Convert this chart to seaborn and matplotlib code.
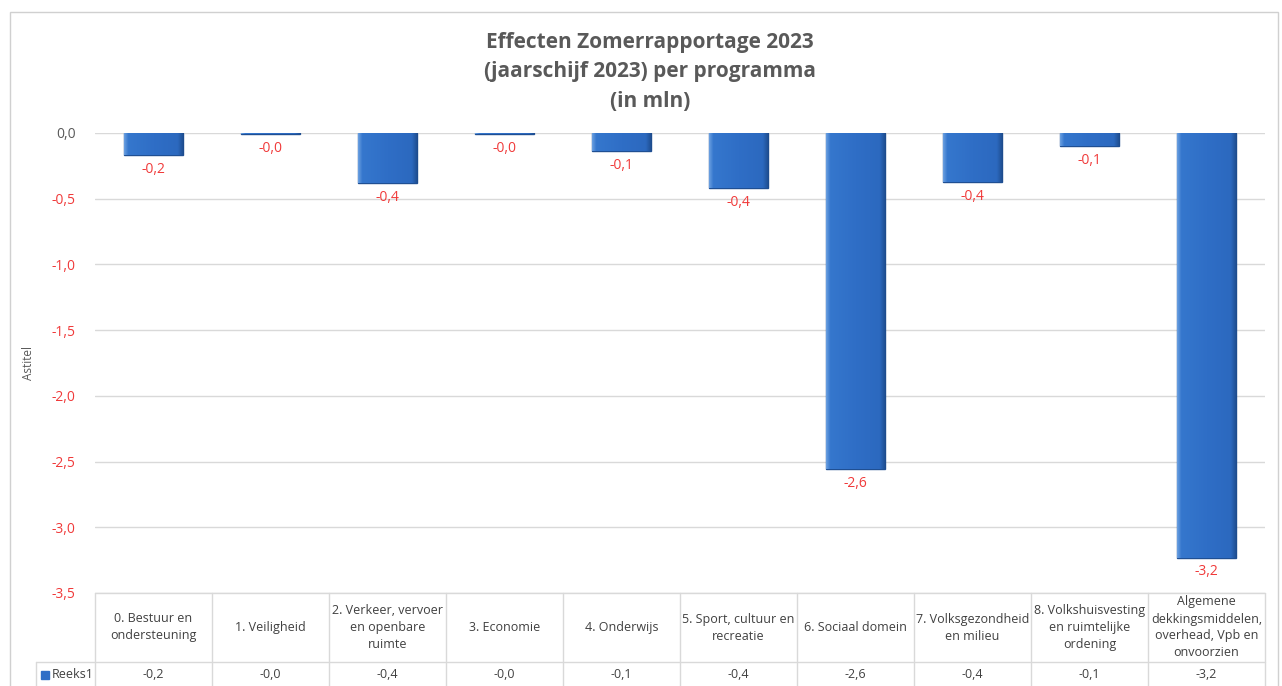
import matplotlib
matplotlib.use("Agg")
import matplotlib.pyplot as plt
import matplotlib.transforms as mtransforms
from matplotlib.colors import LinearSegmentedColormap
from matplotlib.patches import Rectangle
import numpy as np
import seaborn as sns
import pandas as pd

# ── DATA ──────────────────────────────────────────────────────────────────────

programmas = [
    "0. Bestuur en\nondersteuning",
    "1. Veiligheid",
    "2. Verkeer, vervoer\nen openbare\nruimte",
    "3. Economie",
    "4. Onderwijs",
    "5. Sport, cultuur en\nrecreatie",
    "6. Sociaal domein",
    "7. Volksgezondheid\nen milieu",
    "8. Volkshuisvesting\nen ruimtelijke\nordening",
    "Algemene\ndekkingsmiddelen,\noverhead, Vpb en\nonvoorzien",
]
effect = [-0.17, -0.01, -0.38, -0.01, -0.14, -0.42, -2.56, -0.37, -0.10, -3.23]
y_ticks = [0.0, -0.5, -1.0, -1.5, -2.0, -2.5, -3.0, -3.5]
serie_naam = "Reeks1"

df = pd.DataFrame({"programma": programmas, "effect": effect})

def nl(v):
    return f"{v:.1f}".replace(".", ",")

# ── STYLE ─────────────────────────────────────────────────────────────────────

sns.set_theme(style="white")
plt.rcParams["font.family"] = ["Open Sans", "DejaVu Sans"]
GREY = "#595959"
RED = "#F03A3A"
GRID = "#D9D9D9"
BAR = "#2F6EC6"

fig = plt.figure(figsize=(12.82, 6.86), dpi=100)
ax = fig.add_axes([95 / 1282, 1 - 593 / 686, 1170 / 1282, 460 / 686])

sns.barplot(data=df, x="programma", y="effect", ax=ax, color=BAR,
            width=0.51, edgecolor="#1F4F93", linewidth=1.0, saturation=1)

# bevelled look: light left edge, flat face, dark right edge
bevel = LinearSegmentedColormap.from_list(
    "bevel", [(0.0, "#6A9FE0"), (0.07, "#3577CD"), (0.5, "#2F6EC6"),
              (0.9, "#2C69BF"), (1.0, "#1D4B8C")])
grad = np.linspace(0, 1, 128).reshape(1, -1)
for bar in ax.patches:
    x0, w = bar.get_x(), bar.get_width()
    y1 = bar.get_height()
    im = ax.imshow(grad, extent=[x0, x0 + w, y1, 0], aspect="auto",
                   cmap=bevel, zorder=bar.get_zorder() + 0.1)
    im.set_clip_path(bar)
ax.set_xlim(-0.5, len(programmas) - 0.5)
ax.set_ylim(-3.5, 0)

ax.set_yticks(y_ticks)
ax.set_yticklabels([nl(t) for t in y_ticks], fontsize=10)
for lbl, t in zip(ax.get_yticklabels(), y_ticks):
    lbl.set_color(GREY if t == 0 else RED)
ax.tick_params(axis="y", length=0, pad=14)
ax.set_xticks([])
ax.set_xlabel("")
ax.set_ylabel("Astitel", fontsize=8.5, color=GREY)
ax.yaxis.set_label_coords(-0.051, 0.5)
ax.yaxis.grid(True, color=GRID, linewidth=1)
ax.set_axisbelow(True)
for s in ax.spines.values():
    s.set_visible(False)

ax.bar_label(ax.containers[0], labels=[nl(v) for v in effect],
             padding=5, fontsize=10, color=RED)

# ── TITLE ─────────────────────────────────────────────────────────────────────

fig.text(0.507, 1 - 72 / 686, "Effecten Zomerrapportage 2023\n(jaarschijf 2023) per programma\n(in mln)",
         ha="center", va="center", fontsize=15, fontweight="bold", color="#595959",
         linespacing=1.55)

# ── DATA TABLE ────────────────────────────────────────────────────────────────

trans = mtransforms.blended_transform_factory(ax.transData, ax.transAxes)
h_head = 69 / 460
h_row = 30 / 460
n = len(programmas)
for i in range(n + 1):
    ax.plot([i - 0.5, i - 0.5], [0, -h_head - h_row], transform=trans,
            color=GRID, lw=1, clip_on=False)
ax.plot([-0.5, n - 0.5], [0, 0], transform=trans, color=GRID, lw=1, clip_on=False)
ax.plot([-59 / 1170 * n - 0.5, n - 0.5], [-h_head, -h_head], transform=trans,
        color=GRID, lw=1, clip_on=False)
ax.plot([-59 / 1170 * n - 0.5] * 2, [-h_head, -h_head - h_row], transform=trans,
        color=GRID, lw=1, clip_on=False)
for i, (p, v) in enumerate(zip(programmas, effect)):
    ax.text(i, -h_head / 2, p, transform=trans, ha="center", va="center",
            fontsize=9, color="#404040", linespacing=1.4)
    ax.text(i, -81 / 460, nl(v), transform=trans, ha="center", va="center",
            fontsize=9, color="#404040")

fig.patches.append(Rectangle((41 / 1282, 1 - 679 / 686), 8 / 1282, 8 / 686,
                             transform=fig.transFigure, color=BAR))
fig.text(52 / 1282, 1 - 674 / 686, serie_naam, ha="left", va="center",
         fontsize=9, color="#404040")

# outer chart border
fig.patches.append(Rectangle((10 / 1282, -0.01), 1268 / 1282, 1 - 12 / 686 + 0.01,
                             transform=fig.transFigure, fill=False,
                             edgecolor="#D0D0D0", linewidth=1))

plt.savefig("out.png", dpi=100)
plt.close()
